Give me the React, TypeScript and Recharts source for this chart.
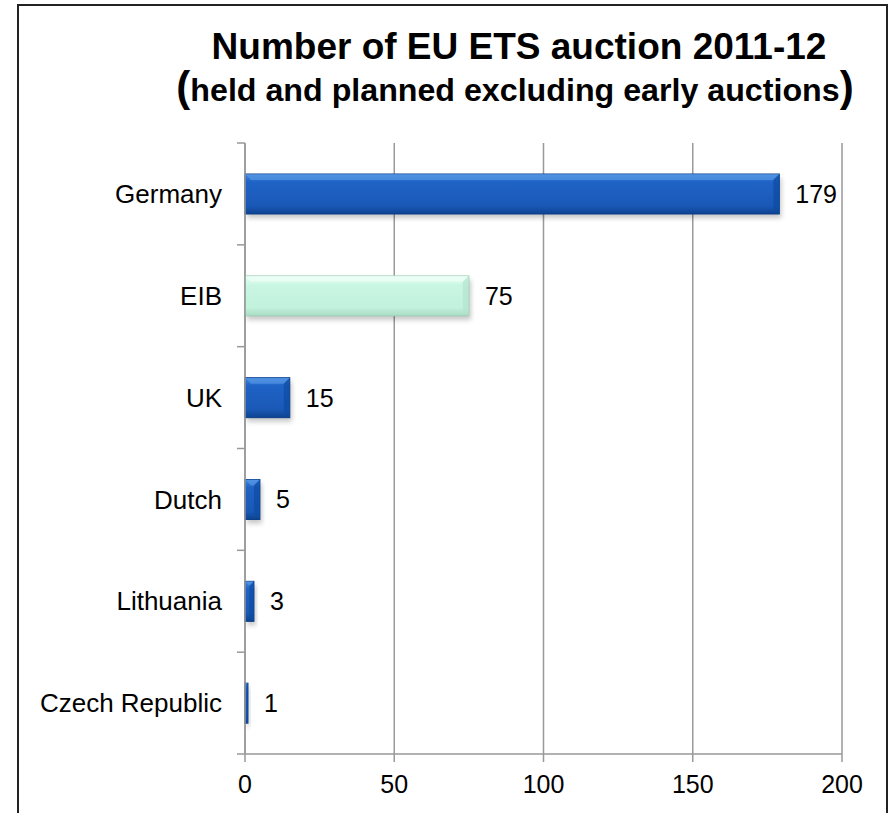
import { BarChart, Bar, XAxis, YAxis, CartesianGrid, Cell, LabelList } from "recharts"

const countries = ["Germany", "EIB", "UK", "Dutch", "Lithuania", "Czech Republic"]
const auctions = [179, 75, 15, 5, 3, 1]
const xTicks = [0, 50, 100, 150, 200]

const FONT = '"Liberation Sans", Arial, sans-serif'

const chartData = countries.map((name, i) => ({ name, value: auctions[i] }))

// bevelled bar with soft shadow, like the Office style
function BevelBar(props: any) {
  const { x, y, width, height, payload } = props
  if (!width || width <= 0) return null
  const mint = payload.name === "EIB"
  const grad = mint ? "url(#mintGrad)" : "url(#blueGrad)"
  const edge = mint ? "#9fcfba" : "#0c3f88"
  const hi = mint ? "#f2fffa" : "#5b9be6"
  const bev = Math.min(6, width / 2)
  return (
    <g>
      <rect x={x + 2} y={y + 4} width={width} height={height} fill="#000" opacity={0.22} filter="url(#barShadow)" />
      <rect x={x} y={y} width={width} height={height} fill={grad} stroke={edge} strokeWidth={1} />
      <polygon
        points={`${x},${y} ${x + width},${y} ${x + width - bev},${y + bev} ${x + bev},${y + bev}`}
        fill={hi}
        opacity={0.6}
      />
      <polygon
        points={`${x + width},${y} ${x + width},${y + height} ${x + width - bev},${y + height - bev} ${x + width - bev},${y + bev}`}
        fill={mint ? "#b4e4cf" : "#0d4ba3"}
        opacity={0.7}
      />
    </g>
  )
}

// tick marks on the category axis sit on the band edges, not the centres
function bandEdges({ yAxis, offset }: any) {
  let r: number[] | undefined
  try {
    const s = yAxis?.scale
    r = s && typeof s.range === "function" ? s.range() : undefined
  } catch (e) {
    r = undefined
  }
  const top = r ? Math.min(r[0], r[1]) : offset.top
  const bottom = r ? Math.max(r[0], r[1]) : offset.top + offset.height
  const step = (bottom - top) / countries.length
  return [...countries.map((_, i) => top + i * step), bottom]
}

function EdgeTick(props: any) {
  const { x1, y1 } = props
  return <line x1={x1 - 8} x2={x1} y1={y1} y2={y1} stroke="#999" strokeWidth={1.5} />
}

export default function App() {
  return (
    <div style={{ position: "relative", width: 891, height: 813, background: "#fff", overflow: "hidden" }}>
      <style>{"html,body{margin:0;padding:0;overflow:hidden}"}</style>
      <svg width={891} height={140} style={{ position: "absolute", left: 0, top: 0 }}>
        <text x={519} y={59} textAnchor="middle" fontFamily={FONT} fontWeight="bold" fontSize={37} fill="#000">
          Number of EU ETS auction 2011-12
        </text>
        <text x={515} y={101} textAnchor="middle" fontFamily={FONT} fontWeight="bold" fontSize={32.2} fill="#000">
          <tspan fontSize={42}>(</tspan>
          held and planned excluding early auctions
          <tspan fontSize={42}>)</tspan>
        </text>
      </svg>
      <div style={{ position: "absolute", left: 0, top: 0 }}>
        <BarChart
          width={891}
          height={813}
          data={chartData}
          layout="vertical"
          margin={{ top: 143, right: 49, bottom: 9, left: 20 }}
        >
          <defs>
            <linearGradient id="blueGrad" x1="0" y1="0" x2="0" y2="1">
              <stop offset="0%" stopColor="#3f86dd" />
              <stop offset="20%" stopColor="#1f63c6" />
              <stop offset="80%" stopColor="#1a58b6" />
              <stop offset="100%" stopColor="#0d438f" />
            </linearGradient>
            <linearGradient id="mintGrad" x1="0" y1="0" x2="0" y2="1">
              <stop offset="0%" stopColor="#e4fff3" />
              <stop offset="25%" stopColor="#c8f6e2" />
              <stop offset="80%" stopColor="#c2f1dc" />
              <stop offset="100%" stopColor="#a9dcc5" />
            </linearGradient>
            <filter id="barShadow" x="-10%" y="-30%" width="130%" height="180%">
              <feGaussianBlur stdDeviation="2.5" />
            </filter>
          </defs>
          <CartesianGrid horizontal={false} stroke="#999" strokeWidth={1.5} />
          <CartesianGrid
            vertical={false}
            horizontal={(p: any) => <EdgeTick key={`e${p.index}`} {...p} />}
            horizontalCoordinatesGenerator={bandEdges}
          />
          <XAxis
            type="number"
            domain={[0, 200]}
            ticks={xTicks}
            interval={0}
            height={50}
            tickSize={8}
            tickMargin={13}
            axisLine={{ stroke: "#999", strokeWidth: 1.5 }}
            tickLine={{ stroke: "#999", strokeWidth: 1.5 }}
            tick={{ fill: "#000", fontSize: 25, fontFamily: FONT }}
          />
          <YAxis
            type="category"
            dataKey="name"
            width={225}
            interval={0}
            tickSize={0}
            tickMargin={23}
            tickLine={false}
            axisLine={{ stroke: "#999", strokeWidth: 1.5 }}
            tick={{ fill: "#000", fontSize: 26, fontFamily: FONT }}
          />
          <Bar dataKey="value" barSize={40} shape={<BevelBar />} isAnimationActive={false}>
            {chartData.map((d) => (
              <Cell key={d.name} fill={d.name === "EIB" ? "#c8f6e2" : "#1f63c6"} />
            ))}
            <LabelList
              dataKey="value"
              position="right"
              offset={16}
              fill="#000"
              fontSize={25}
              fontFamily={FONT}
            />
          </Bar>
        </BarChart>
      </div>
      <svg width={891} height={813} style={{ position: "absolute", left: 0, top: 0, pointerEvents: "none" }}>
        <path d="M18,813 L18,5 L887,5 L887,813" fill="none" stroke="#222" strokeWidth={2} />
      </svg>
    </div>
  )
}
